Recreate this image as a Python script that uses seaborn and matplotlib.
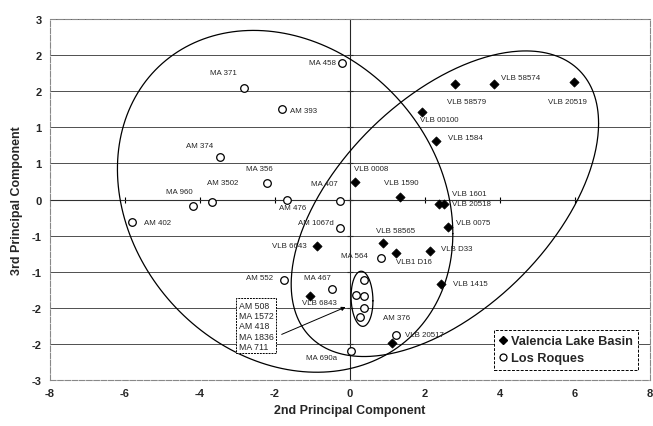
import numpy as np
import pandas as pd
import seaborn as sns
import matplotlib.pyplot as plt
from matplotlib.lines import Line2D
from matplotlib.ticker import FuncFormatter, NullFormatter

sns.set_style("white")
plt.rcParams['font.family'] = ['Liberation Sans', 'DejaVu Sans']
plt.rcParams['axes.unicode_minus'] = False

# Los Roques samples (open circles)
lr_names = ["MA 458", "MA 371", "AM 393", "AM 374", "MA 356", "AM 476", "AM 3502",
            "MA 960", "AM 402", "MA 407", "AM 1067d", "AM 552", "MA 467", "MA 564",
            "AM 508", "MA 1572", "AM 418", "MA 1836", "MA 711", "AM 376", "MA 690a"]
lr_pc2 = [-0.22, -2.83, -1.81, -3.46, -2.22, -1.69, -3.67, -4.18, -5.82, -0.27, -0.28,
          -1.77, -0.48, 0.83, 0.36, 0.17, 0.36, 0.36, 0.26, 1.22, 0.02]
lr_pc3 = [2.27, 1.86, 1.51, 0.71, 0.28, 0.00, -0.04, -0.10, -0.38, -0.02, -0.47,
          -1.34, -1.49, -0.98, -1.34, -1.59, -1.61, -1.81, -1.96, -2.26, -2.51]

# Valencia Lake Basin samples (filled diamonds)
vlb_names = ["VLB 58579", "VLB 58574", "VLB 20519", "VLB 00100", "VLB 1584", "VLB 0008",
             "VLB 1590", "VLB 1601", "VLB 20518", "VLB 0075", "VLB 58565", "VLB1 D16",
             "VLB D33", "VLB 1415", "VLB 20517", "VLB 6643", "VLB 6843"]
vlb_pc2 = [2.80, 3.84, 5.98, 1.91, 2.28, 0.12, 1.34, 2.38, 2.50, 2.61, 0.88, 1.23,
           2.12, 2.43, 1.13, -0.89, -1.08]
vlb_pc3 = [1.92, 1.92, 1.96, 1.46, 0.97, 0.29, 0.05, -0.08, -0.08, -0.46, -0.72, -0.89,
           -0.86, -1.40, -2.39, -0.77, -1.60]

# samples grouped in the small ellipse, listed in the callout box
boxed = ["AM 508", "MA 1572", "AM 418", "MA 1836", "MA 711"]

# ellipse centres and shape matrices (data units)
ell_lr_center = (-1.73, -0.03)
ell_lr_shape = [[20.0, -2.4], [-2.4, 8.07]]
ell_vlb_center = (2.53, -0.07)
ell_vlb_shape = [[16.8, 5.48], [5.48, 6.45]]
ell_small_center = (0.32, -1.65)
ell_small_shape = [[0.085, -0.01], [-0.01, 0.21]]

xticks = list(range(-8, 9, 2))
yticks = list(np.round(np.linspace(-3, 3, 11), 1))

df = pd.concat([
    pd.DataFrame({"name": lr_names, "pc2": lr_pc2, "pc3": lr_pc3, "group": "Los Roques"}),
    pd.DataFrame({"name": vlb_names, "pc2": vlb_pc2, "pc3": vlb_pc3, "group": "Valencia Lake Basin"}),
], ignore_index=True)

# label placement: (dx px, dy px, ha)
offsets = {
    "MA 458": (-6, 0, "right"), "MA 371": (-21, 15, "center"), "AM 393": (8, -2, "left"),
    "AM 374": (-21, 11, "center"), "MA 356": (-7, 14, "center"), "AM 476": (6, -8, "center"),
    "AM 3502": (10, 19, "center"), "MA 960": (-14, 14, "center"), "AM 402": (12, 0, "left"),
    "MA 407": (-16, 17, "center"), "AM 1067d": (-6, 5, "right"), "AM 552": (-11, 3, "right"),
    "MA 467": (-15, 12, "center"), "MA 564": (-13, 3, "right"), "AM 376": (1, 18, "center"),
    "MA 690a": (-14, -7, "right"),
    "VLB 58579": (12, -17, "center"), "VLB 58574": (7, 7, "left"), "VLB 20519": (-7, -20, "center"),
    "VLB 00100": (-2, -8, "left"), "VLB 1584": (12, 4, "left"), "VLB 0008": (-1, 14, "left"),
    "VLB 1590": (1, 14, "center"), "VLB 1601": (13, 11, "left"), "VLB 20518": (8, 1, "left"),
    "VLB 0075": (8, 5, "left"), "VLB 58565": (13, 12, "center"), "VLB1 D16": (0, -8, "left"),
    "VLB D33": (11, 3, "left"), "VLB 1415": (12, 0, "left"), "VLB 20517": (13, 9, "left"),
    "VLB 6643": (-10, 0, "right"), "VLB 6843": (-8, -7, "left"),
}

fig = plt.figure(figsize=(6.53, 4.27), dpi=100)
ax = fig.add_axes([0.0766, 0.1077, 0.9188, 0.8454])

ax.set_xlim(-8, 8)
ax.set_ylim(-3, 3)
ax.set_xticks(xticks)
ax.set_yticks(yticks)
ax.yaxis.set_major_formatter(FuncFormatter(lambda v, p: str(int(round(v))) if abs(v) > 1e-9 else "0"))
ax.tick_params(length=0, labelsize=8, pad=6)
for lab in ax.get_xticklabels() + ax.get_yticklabels():
    lab.set_fontweight("bold")
ax.yaxis.grid(True, color="#333333", lw=0.6)
ax.xaxis.grid(False)
for s in ax.spines.values():
    s.set_color("#888888")
    s.set_linewidth(0.8)
    s.set_linestyle((0, (5, 1.5)))

# axes crossing at the origin
sx = ax.secondary_xaxis(0.5)
sx.set_xticks(xticks[1:-1])
sx.xaxis.set_major_formatter(NullFormatter())
sx.tick_params(direction="inout", length=4, width=0.8, color="black")
sx.spines["bottom"].set_linewidth(1.1)
sy = ax.secondary_yaxis(0.5)
sy.set_yticks(yticks[1:-1])
sy.yaxis.set_major_formatter(NullFormatter())
sy.tick_params(direction="inout", length=4, width=0.8, color="black")
sy.spines["left"].set_linewidth(1.1)

# ellipses
t = np.linspace(0, 2 * np.pi, 400)
for c, S in [(ell_lr_center, ell_lr_shape), (ell_vlb_center, ell_vlb_shape),
             (ell_small_center, ell_small_shape)]:
    A = np.linalg.cholesky(np.array(S))
    pts = A @ np.vstack([np.cos(t), np.sin(t)])
    ax.plot(pts[0] + c[0], pts[1] + c[1], color="black", lw=0.9, zorder=3)

sns.scatterplot(data=df[df.group == "Los Roques"], x="pc2", y="pc3", marker="o", s=30,
                facecolor="white", edgecolor="black", linewidth=0.9, ax=ax, zorder=4)
sns.scatterplot(data=df[df.group == "Valencia Lake Basin"], x="pc2", y="pc3", marker="D", s=22,
                color="black", edgecolor="black", linewidth=0.5, ax=ax, zorder=4)

for _, r in df.iterrows():
    if r["name"] in boxed:
        continue
    dx, dy, ha = offsets[r["name"]]
    ax.annotate(r["name"], (r.pc2, r.pc3), xytext=(dx, dy), textcoords="offset pixels",
                ha=ha, va="center", fontsize=5.7, zorder=5)

# callout box for the small cluster
ax.text(-2.97, -1.68, "\n".join(boxed), ha="left", va="top", fontsize=6.3, linespacing=1.2,
        bbox=dict(boxstyle="square,pad=0.25", fc="white", ec="black", lw=0.7, ls=(0, (2, 1))),
        zorder=5)
ax.annotate("", xy=(-0.05, -1.77), xytext=(-1.89, -2.26),
            arrowprops=dict(arrowstyle="-|>", color="black", lw=0.7, mutation_scale=6), zorder=5)

ax.set_xlabel("2nd Principal Component", fontsize=9, fontweight="bold", labelpad=4)
ax.set_ylabel("3rd Principal Component", fontsize=9, fontweight="bold", labelpad=6)

handles = [
    Line2D([], [], marker="D", ls="none", color="black", markersize=4.5),
    Line2D([], [], marker="o", ls="none", mfc="white", mec="black", markersize=5, mew=0.9),
]
leg = ax.legend(handles, ["Valencia Lake Basin", "Los Roques"], loc="lower right",
                bbox_to_anchor=(0.985, 0.022), fancybox=False, framealpha=1,
                edgecolor="black", handlelength=0.7, handletextpad=0.3, borderpad=0.4,
                borderaxespad=0.2, labelspacing=0.4, prop={"weight": "bold", "size": 9.2})
leg.get_frame().set_linewidth(0.7)
leg.get_frame().set_linestyle((0, (3, 1.5)))
leg.set_zorder(6)

fig.savefig("out.png", dpi=100)
